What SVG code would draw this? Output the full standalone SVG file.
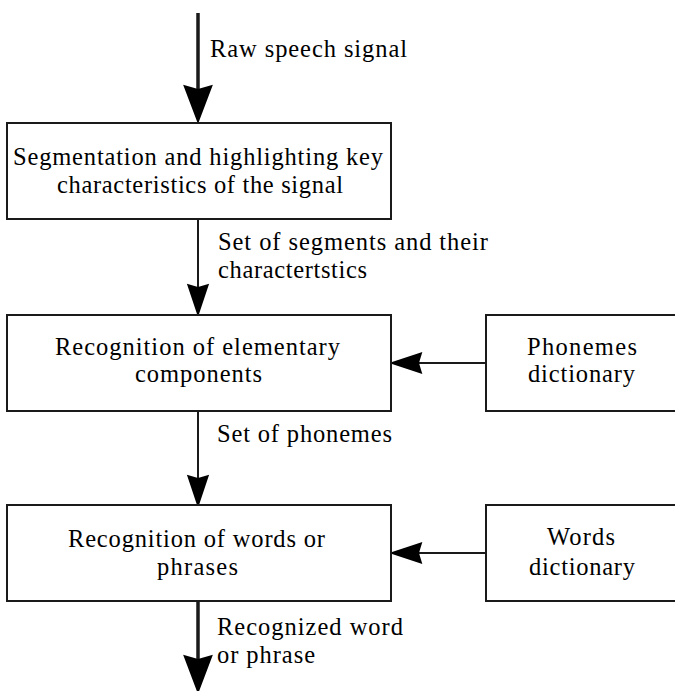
<svg xmlns="http://www.w3.org/2000/svg" width="675" height="691" viewBox="0 0 675 691">
<style>
.box{fill:#fff;stroke:#1a1a1a;stroke-width:2}
.t{font-family:"Liberation Serif","DejaVu Serif","Times New Roman",serif;font-size:24.5px;fill:#000}
.c{stroke:#1a1a1a;fill:none;stroke-width:2}
.ct{stroke:#1a1a1a;fill:none;stroke-width:3.5}
</style>
<defs>
<marker id="ah" markerUnits="userSpaceOnUse" markerWidth="40" markerHeight="30" viewBox="-2 -12 36 24" refX="3" refY="0" orient="auto">
<path d="M0,-10 L30,0 L0,10 L3,0 Z" fill="#000"/>
</marker>
<marker id="ahb" markerUnits="userSpaceOnUse" markerWidth="46" markerHeight="34" viewBox="-2 -16 42 32" refX="4" refY="0" orient="auto">
<path d="M0,-14 L37,0 L0,14 L4,0 Z" fill="#000"/>
</marker>
</defs>
<rect width="675" height="691" fill="#fff"/>
<g id="connectors">
<line class="ct" x1="198" y1="13" x2="198" y2="89" marker-end="url(#ahb)"/>
<line class="c" x1="198" y1="219" x2="198" y2="287" marker-end="url(#ah)"/>
<line class="c" x1="198" y1="411" x2="198" y2="478" marker-end="url(#ah)"/>
<line class="ct" x1="198" y1="601" x2="198" y2="659" marker-end="url(#ahb)"/>
<line class="c" x1="486" y1="363" x2="419" y2="363" marker-end="url(#ah)"/>
<line class="c" x1="486" y1="553" x2="419" y2="553" marker-end="url(#ah)"/>
<text class="t" x="210" y="57" textLength="197" lengthAdjust="spacing">Raw speech signal</text>
<text class="t" x="218" y="250" textLength="270" lengthAdjust="spacing">Set of segments and their</text>
<text class="t" x="218" y="278" textLength="149" lengthAdjust="spacing">charactertstics</text>
<text class="t" x="217" y="442" textLength="175" lengthAdjust="spacing">Set of phonemes</text>
<text class="t" x="217" y="635" textLength="186" lengthAdjust="spacing">Recognized word</text>
<text class="t" x="217" y="663" textLength="98" lengthAdjust="spacing">or phrase</text>
</g>
<g id="segmentation">
<rect class="box" x="7" y="123" width="384" height="96"/>
<text class="t" x="13" y="165" textLength="370" lengthAdjust="spacing">Segmentation and highlighting key</text>
<text class="t" x="57" y="193" textLength="286" lengthAdjust="spacing">characteristics of the signal</text>
</g>
<g id="elementary">
<rect class="box" x="7" y="315" width="384" height="96"/>
<text class="t" x="55" y="355" textLength="285" lengthAdjust="spacing">Recognition of elementary</text>
<text class="t" x="135" y="382" textLength="127" lengthAdjust="spacing">components</text>
</g>
<g id="phonemes">
<rect class="box" x="486" y="315" width="200" height="96"/>
<text class="t" x="527" y="355" textLength="110" lengthAdjust="spacing">Phonemes</text>
<text class="t" x="528" y="382" textLength="107" lengthAdjust="spacing">dictionary</text>
</g>
<g id="words-recognition">
<rect class="box" x="7" y="505" width="384" height="96"/>
<text class="t" x="68" y="547" textLength="257" lengthAdjust="spacing">Recognition of words or</text>
<text class="t" x="157" y="575" textLength="81" lengthAdjust="spacing">phrases</text>
</g>
<g id="words-dictionary">
<rect class="box" x="486" y="505" width="200" height="96"/>
<text class="t" x="547" y="545" textLength="68" lengthAdjust="spacing">Words</text>
<text class="t" x="529" y="575" textLength="106" lengthAdjust="spacing">dictionary</text>
</g>
</svg>
